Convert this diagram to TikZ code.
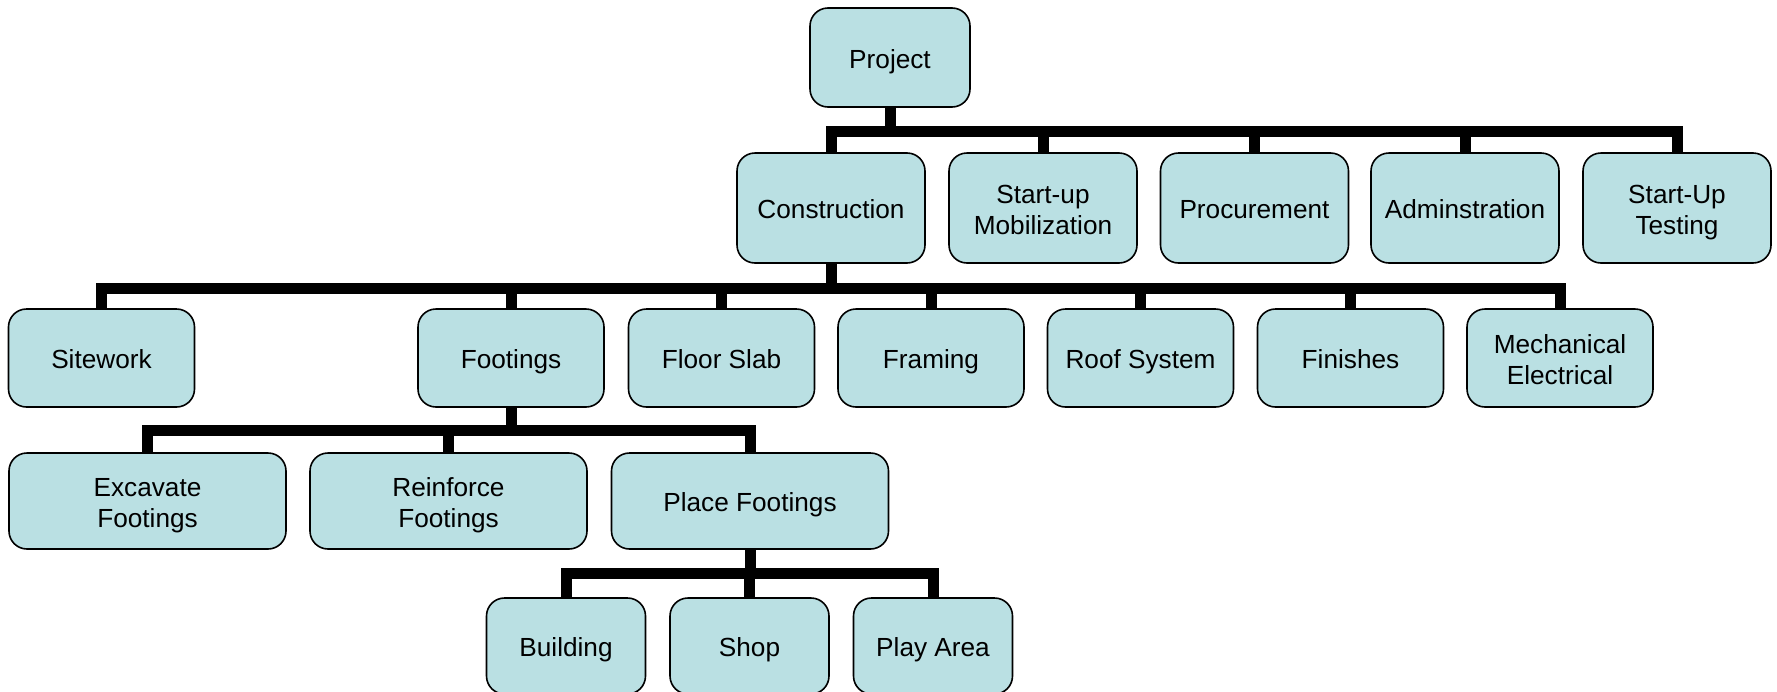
\documentclass[tikz,border=0pt]{standalone}
\usepackage{fontspec}
\setmainfont{Liberation Sans}
\usetikzlibrary{positioning}
\definecolor{boxfill}{RGB}{186,224,227}

\begin{document}
\begin{tikzpicture}[x=0.5pt, y=-0.5pt,
    wbs/.style={draw, fill=boxfill, line width=0.8pt, rounded corners=9pt, align=center, inner sep=0pt,
        font=\fontsize{13.1}{15.5}\selectfont, text height=13.7pt, text depth=2.9pt},
    twoline/.style={text height=29.3pt, text depth=3pt},
    lvlzero/.style={wbs, minimum width=80pt, minimum height=49.5pt},
    lvlone/.style={wbs, minimum width=94pt, minimum height=55pt},
    lvltwo/.style={wbs, minimum width=93pt, minimum height=49pt},
    lvlthree/.style={wbs, minimum width=138.5pt, minimum height=48pt},
    lvlfour/.style={wbs, minimum width=79.5pt, minimum height=48pt},
    link/.style={line width=5.5pt, black}
]
    \useasboundingbox (0,0) rectangle (1777,691);

    % Top level
    \node[lvlzero] (project) at (890,57.5) {Project};

    % Level one
    \node[lvlone] (cons) at (831,208) {Construction};
    \node[lvlone, twoline] (mob)  at (1043,208) {Start-up\\Mobilization};
    \node[lvlone] (proc) at (1254.5,208) {Procurement};
    \node[lvlone] (adm)  at (1465,208) {Adminstration};
    \node[lvlone, twoline] (test) at (1677,208) {Start-Up\\Testing};

    % Construction breakdown
    \node[lvltwo] (site)   at (101.5,358) {Sitework};
    \node[lvltwo] (foot)   at (511,358) {Footings};
    \node[lvltwo] (slab)   at (721.5,358) {Floor Slab};
    \node[lvltwo] (frame)  at (931,358) {Framing};
    \node[lvltwo] (roof)   at (1140.5,358) {Roof System};
    \node[lvltwo] (finish) at (1350.5,358) {Finishes};
    \node[lvltwo, twoline] (mech) at (1560,358) {Mechanical\\Electrical};

    % Footings breakdown
    \node[lvlthree, twoline] (excav) at (147.5,501) {Excavate\\Footings};
    \node[lvlthree, twoline] (reinf) at (448.5,501) {Reinforce\\Footings};
    \node[lvlthree] (place) at (750,501) {Place Footings};

    % Place footings breakdown
    \node[lvlfour] (bldg) at (566,646) {Building};
    \node[lvlfour] (shop) at (749.5,646) {Shop};
    \node[lvlfour] (play) at (933,646) {Play Area};

    % Connectors
    \foreach \c in {cons,mob,proc,adm,test} {
        \draw[link] (project.south) -- ++(0,23.5) -| (\c.north);
    }
    \foreach \c in {site,foot,slab,frame,roof,finish,mech} {
        \draw[link] (cons.south) -- ++(0,24.5) -| (\c.north);
    }
    \foreach \c in {excav,reinf,place} {
        \draw[link] (foot.south) -- ++(0,23) -| (\c.north);
    }
    \foreach \c in {bldg,shop,play} {
        \draw[link] (place.south) -- ++(0,24) -| (\c.north);
    }
\end{tikzpicture}
\end{document}
